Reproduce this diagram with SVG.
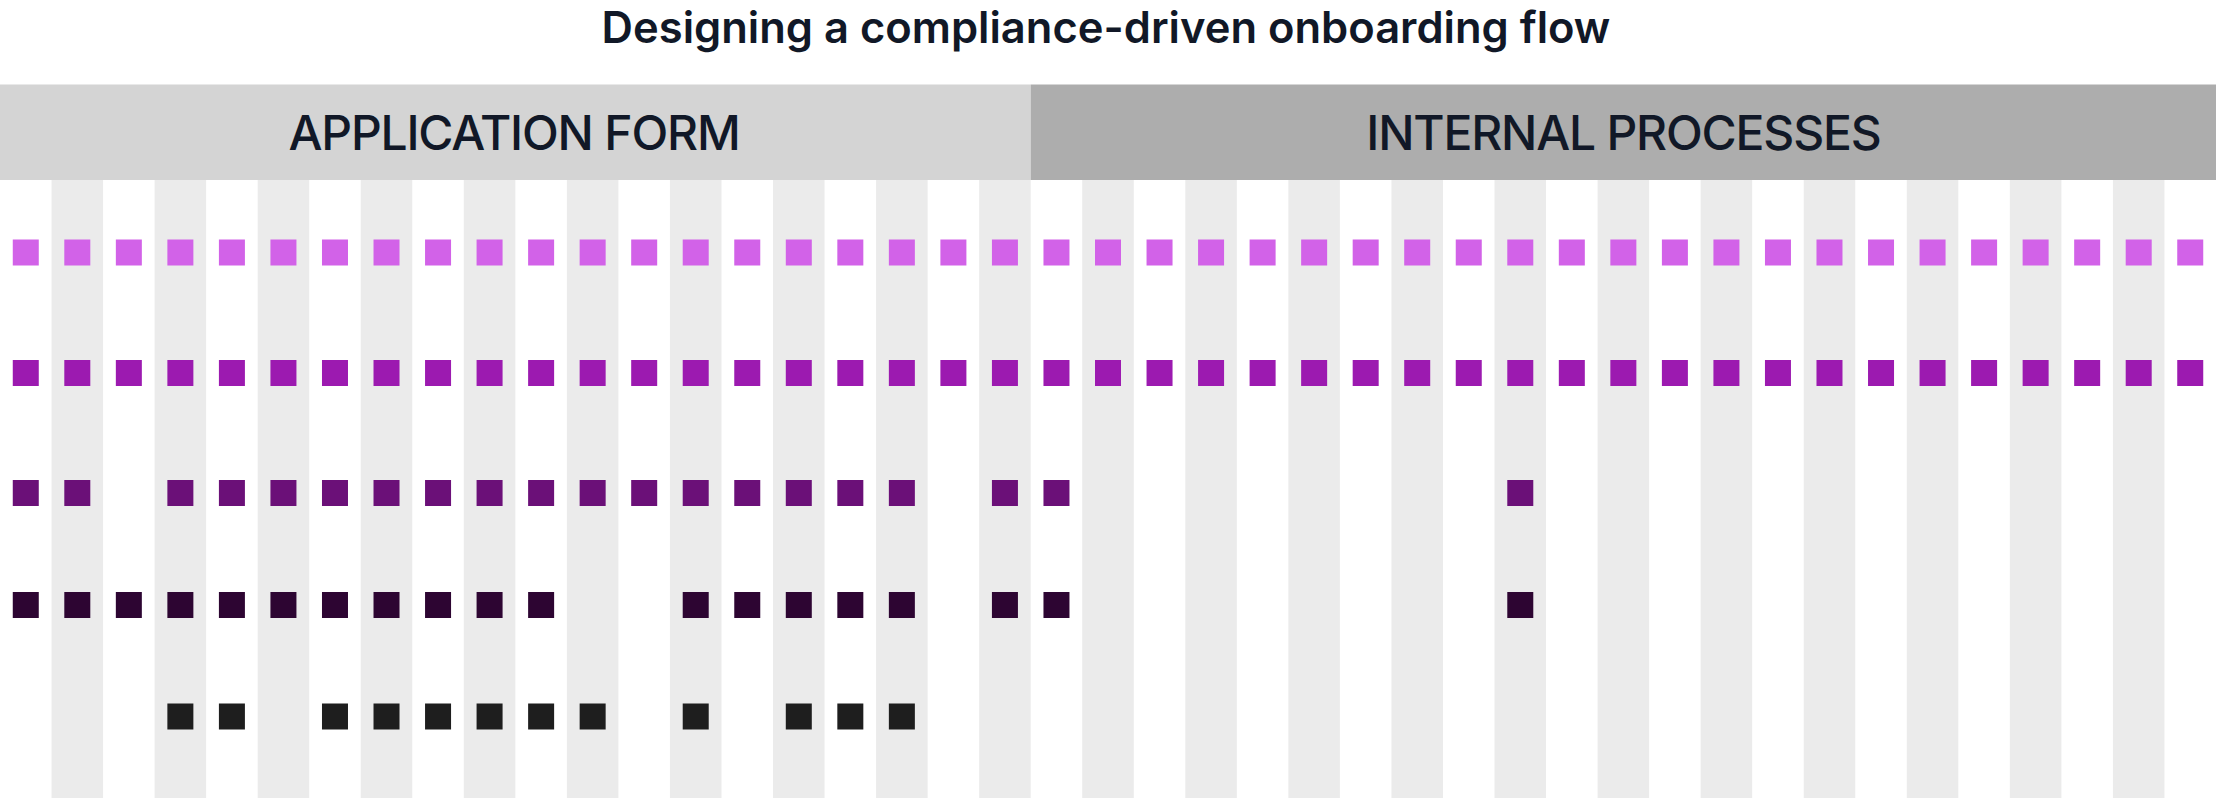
<svg xmlns="http://www.w3.org/2000/svg" xmlns:xlink="http://www.w3.org/1999/xlink" width="2216" height="798" viewBox="0 0 2216 798">
<style>
.title{font-family:Inter,"Liberation Sans",sans-serif;font-weight:600;font-size:43.5px;fill:#111827}
.hdr{font-family:Inter,"Liberation Sans",sans-serif;font-weight:500;font-size:48px;letter-spacing:-1.2px;fill:#111827}
.stripe{fill:#EBEBEB}
.r1{fill:#D262E8}
.r2{fill:#9C1AB0}
.r3{fill:#6B1078}
.r4{fill:#2D0532}
.r5{fill:#1E1E1E}
</style>
<defs>
<rect id="sq" width="26" height="26"/>
</defs>
<rect width="2216" height="798" fill="#FFFFFF"/>
<g id="stripes" class="stripe">
<rect x="51.53" y="180" width="51.53" height="618"/>
<rect x="154.60" y="180" width="51.53" height="618"/>
<rect x="257.67" y="180" width="51.53" height="618"/>
<rect x="360.74" y="180" width="51.53" height="618"/>
<rect x="463.81" y="180" width="51.53" height="618"/>
<rect x="566.88" y="180" width="51.53" height="618"/>
<rect x="669.95" y="180" width="51.53" height="618"/>
<rect x="773.02" y="180" width="51.53" height="618"/>
<rect x="876.09" y="180" width="51.53" height="618"/>
<rect x="979.16" y="180" width="51.53" height="618"/>
<rect x="1082.23" y="180" width="51.53" height="618"/>
<rect x="1185.30" y="180" width="51.53" height="618"/>
<rect x="1288.37" y="180" width="51.53" height="618"/>
<rect x="1391.44" y="180" width="51.53" height="618"/>
<rect x="1494.51" y="180" width="51.53" height="618"/>
<rect x="1597.58" y="180" width="51.53" height="618"/>
<rect x="1700.65" y="180" width="51.53" height="618"/>
<rect x="1803.72" y="180" width="51.53" height="618"/>
<rect x="1906.79" y="180" width="51.53" height="618"/>
<rect x="2009.86" y="180" width="51.53" height="618"/>
<rect x="2112.93" y="180" width="51.53" height="618"/>
</g>
<g id="title">
<text class="title" x="1106" y="42.5" text-anchor="middle">Designing a compliance-driven onboarding flow</text>
</g>
<g id="header-application-form">
<rect x="0" y="84.5" width="1030.7" height="95.5" fill="#D4D4D4"/>
<text class="hdr" x="514" y="150.3" text-anchor="middle">APPLICATION FORM</text>
</g>
<g id="header-internal-processes">
<rect x="1030.7" y="84.5" width="1185.3" height="95.5" fill="#ADADAD"/>
<text class="hdr" x="1623.4" y="150.3" text-anchor="middle">INTERNAL PROCESSES</text>
</g>
<g id="row-1" class="r1" transform="translate(0,239.5)">
<use xlink:href="#sq" x="12.77"/><use xlink:href="#sq" x="64.30"/><use xlink:href="#sq" x="115.84"/><use xlink:href="#sq" x="167.37"/><use xlink:href="#sq" x="218.91"/><use xlink:href="#sq" x="270.44"/><use xlink:href="#sq" x="321.98"/><use xlink:href="#sq" x="373.51"/><use xlink:href="#sq" x="425.05"/><use xlink:href="#sq" x="476.58"/><use xlink:href="#sq" x="528.12"/><use xlink:href="#sq" x="579.65"/><use xlink:href="#sq" x="631.19"/><use xlink:href="#sq" x="682.72"/><use xlink:href="#sq" x="734.26"/><use xlink:href="#sq" x="785.79"/><use xlink:href="#sq" x="837.33"/><use xlink:href="#sq" x="888.86"/><use xlink:href="#sq" x="940.40"/><use xlink:href="#sq" x="991.93"/><use xlink:href="#sq" x="1043.47"/><use xlink:href="#sq" x="1095.00"/><use xlink:href="#sq" x="1146.54"/><use xlink:href="#sq" x="1198.07"/><use xlink:href="#sq" x="1249.61"/><use xlink:href="#sq" x="1301.14"/><use xlink:href="#sq" x="1352.68"/><use xlink:href="#sq" x="1404.21"/><use xlink:href="#sq" x="1455.75"/><use xlink:href="#sq" x="1507.28"/><use xlink:href="#sq" x="1558.82"/><use xlink:href="#sq" x="1610.35"/><use xlink:href="#sq" x="1661.89"/><use xlink:href="#sq" x="1713.42"/><use xlink:href="#sq" x="1764.96"/><use xlink:href="#sq" x="1816.49"/><use xlink:href="#sq" x="1868.03"/><use xlink:href="#sq" x="1919.56"/><use xlink:href="#sq" x="1971.10"/><use xlink:href="#sq" x="2022.63"/><use xlink:href="#sq" x="2074.17"/><use xlink:href="#sq" x="2125.70"/><use xlink:href="#sq" x="2177.24"/>
</g>
<g id="row-2" class="r2" transform="translate(0,360)">
<use xlink:href="#sq" x="12.77"/><use xlink:href="#sq" x="64.30"/><use xlink:href="#sq" x="115.84"/><use xlink:href="#sq" x="167.37"/><use xlink:href="#sq" x="218.91"/><use xlink:href="#sq" x="270.44"/><use xlink:href="#sq" x="321.98"/><use xlink:href="#sq" x="373.51"/><use xlink:href="#sq" x="425.05"/><use xlink:href="#sq" x="476.58"/><use xlink:href="#sq" x="528.12"/><use xlink:href="#sq" x="579.65"/><use xlink:href="#sq" x="631.19"/><use xlink:href="#sq" x="682.72"/><use xlink:href="#sq" x="734.26"/><use xlink:href="#sq" x="785.79"/><use xlink:href="#sq" x="837.33"/><use xlink:href="#sq" x="888.86"/><use xlink:href="#sq" x="940.40"/><use xlink:href="#sq" x="991.93"/><use xlink:href="#sq" x="1043.47"/><use xlink:href="#sq" x="1095.00"/><use xlink:href="#sq" x="1146.54"/><use xlink:href="#sq" x="1198.07"/><use xlink:href="#sq" x="1249.61"/><use xlink:href="#sq" x="1301.14"/><use xlink:href="#sq" x="1352.68"/><use xlink:href="#sq" x="1404.21"/><use xlink:href="#sq" x="1455.75"/><use xlink:href="#sq" x="1507.28"/><use xlink:href="#sq" x="1558.82"/><use xlink:href="#sq" x="1610.35"/><use xlink:href="#sq" x="1661.89"/><use xlink:href="#sq" x="1713.42"/><use xlink:href="#sq" x="1764.96"/><use xlink:href="#sq" x="1816.49"/><use xlink:href="#sq" x="1868.03"/><use xlink:href="#sq" x="1919.56"/><use xlink:href="#sq" x="1971.10"/><use xlink:href="#sq" x="2022.63"/><use xlink:href="#sq" x="2074.17"/><use xlink:href="#sq" x="2125.70"/><use xlink:href="#sq" x="2177.24"/>
</g>
<g id="row-3" class="r3" transform="translate(0,480)">
<use xlink:href="#sq" x="12.77"/><use xlink:href="#sq" x="64.30"/><use xlink:href="#sq" x="167.37"/><use xlink:href="#sq" x="218.91"/><use xlink:href="#sq" x="270.44"/><use xlink:href="#sq" x="321.98"/><use xlink:href="#sq" x="373.51"/><use xlink:href="#sq" x="425.05"/><use xlink:href="#sq" x="476.58"/><use xlink:href="#sq" x="528.12"/><use xlink:href="#sq" x="579.65"/><use xlink:href="#sq" x="631.19"/><use xlink:href="#sq" x="682.72"/><use xlink:href="#sq" x="734.26"/><use xlink:href="#sq" x="785.79"/><use xlink:href="#sq" x="837.33"/><use xlink:href="#sq" x="888.86"/><use xlink:href="#sq" x="991.93"/><use xlink:href="#sq" x="1043.47"/><use xlink:href="#sq" x="1507.28"/>
</g>
<g id="row-4" class="r4" transform="translate(0,592)">
<use xlink:href="#sq" x="12.77"/><use xlink:href="#sq" x="64.30"/><use xlink:href="#sq" x="115.84"/><use xlink:href="#sq" x="167.37"/><use xlink:href="#sq" x="218.91"/><use xlink:href="#sq" x="270.44"/><use xlink:href="#sq" x="321.98"/><use xlink:href="#sq" x="373.51"/><use xlink:href="#sq" x="425.05"/><use xlink:href="#sq" x="476.58"/><use xlink:href="#sq" x="528.12"/><use xlink:href="#sq" x="682.72"/><use xlink:href="#sq" x="734.26"/><use xlink:href="#sq" x="785.79"/><use xlink:href="#sq" x="837.33"/><use xlink:href="#sq" x="888.86"/><use xlink:href="#sq" x="991.93"/><use xlink:href="#sq" x="1043.47"/><use xlink:href="#sq" x="1507.28"/>
</g>
<g id="row-5" class="r5" transform="translate(0,703.5)">
<use xlink:href="#sq" x="167.37"/><use xlink:href="#sq" x="218.91"/><use xlink:href="#sq" x="321.98"/><use xlink:href="#sq" x="373.51"/><use xlink:href="#sq" x="425.05"/><use xlink:href="#sq" x="476.58"/><use xlink:href="#sq" x="528.12"/><use xlink:href="#sq" x="579.65"/><use xlink:href="#sq" x="682.72"/><use xlink:href="#sq" x="785.79"/><use xlink:href="#sq" x="837.33"/><use xlink:href="#sq" x="888.86"/>
</g>
</svg>
